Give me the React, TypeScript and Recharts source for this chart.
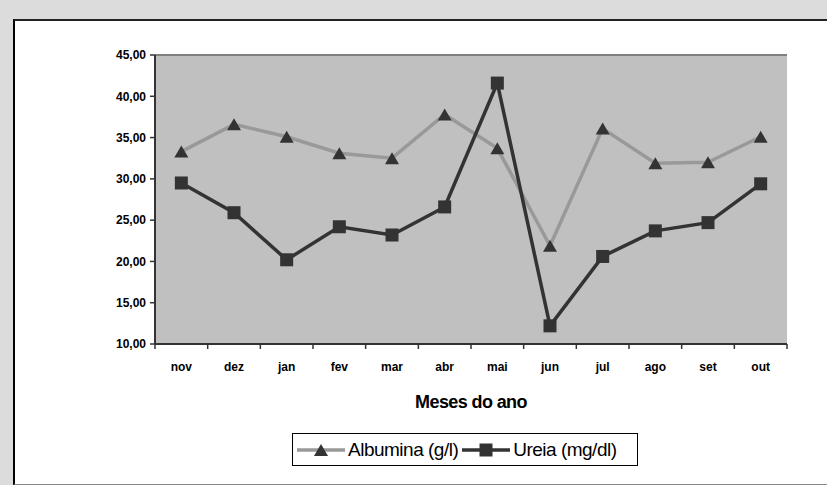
import React from 'react';
import {
  LineChart,
  Line,
  XAxis,
  YAxis,
  CartesianGrid,
  ReferenceLine,
  Legend,
} from 'recharts';

const months = ['nov', 'dez', 'jan', 'fev', 'mar', 'abr', 'mai', 'jun', 'jul', 'ago', 'set', 'out'];
const albumina = [33.3, 36.6, 35.1, 33.1, 32.5, 37.8, 33.7, 21.9, 36.1, 31.9, 32.0, 35.1];
const ureia = [29.5, 25.9, 20.2, 24.2, 23.2, 26.6, 41.6, 12.2, 20.6, 23.7, 24.7, 29.4];
const yTicks = [10, 15, 20, 25, 30, 35, 40, 45];
const seriesNames = ['Albumina (g/l)', 'Ureia (mg/dl)'];
const xTitle = 'Meses do ano';

const data = months.map((m, i) => ({ month: m, albumina: albumina[i], ureia: ureia[i] }));

const FONT = '"Liberation Sans", Arial, sans-serif';
const DARK = '#333333';
const LIGHT = '#999999';
const X_TICK_SIZE = 5;
const X_TICK_MARGIN = 13;

const Triangle = (props: any) => {
  const { cx, cy } = props;
  if (cx == null || cy == null) return null;
  const w = 14;
  const h = 12;
  return (
    <path
      d={`M${cx},${cy - h / 2} L${cx + w / 2},${cy + h / 2} L${cx - w / 2},${cy + h / 2} Z`}
      fill={DARK}
      stroke="none"
    />
  );
};

const Square = (props: any) => {
  const { cx, cy } = props;
  if (cx == null || cy == null) return null;
  const s = 13;
  return <rect x={cx - s / 2} y={cy - s / 2} width={s} height={s} fill={DARK} stroke="none" />;
};

const XTick = (props: any) => {
  const { x, y, payload, index } = props;
  const off = payload.offset || 0;
  const axisY = y - X_TICK_SIZE - X_TICK_MARGIN;
  return (
    <g>
      {index === 0 && (
        <line x1={x - off} x2={x - off} y1={axisY} y2={axisY + X_TICK_SIZE} stroke={DARK} strokeWidth={1.5} />
      )}
      <line x1={x + off} x2={x + off} y1={axisY} y2={axisY + X_TICK_SIZE} stroke={DARK} strokeWidth={1.5} />
      <text
        x={x}
        y={y}
        dy="0.71em"
        textAnchor="middle"
        fontFamily={FONT}
        fontWeight="bold"
        fontSize={12}
        fill="#000"
      >
        {payload.value}
      </text>
    </g>
  );
};

const LegendContent = () => (
  <div
    style={{
      boxSizing: 'border-box',
      width: '100%',
      height: '100%',
      border: '1px solid #000',
      background: '#fff',
      display: 'flex',
      alignItems: 'center',
      paddingLeft: 4,
      fontFamily: FONT,
      fontSize: 19,
      letterSpacing: -0.5,
      color: '#000',
      whiteSpace: 'nowrap',
    }}
  >
    <svg width={48} height={20} style={{ display: 'block' }}>
      <line x1={0} x2={48} y1={10} y2={10} stroke={LIGHT} strokeWidth={3.5} />
      <Triangle cx={24} cy={10} />
    </svg>
    <span style={{ marginLeft: 3, marginRight: 4 }}>{seriesNames[0]}</span>
    <svg width={48} height={20} style={{ display: 'block' }}>
      <line x1={0} x2={48} y1={10} y2={10} stroke={DARK} strokeWidth={3.5} />
      <Square cx={24} cy={10} />
    </svg>
    <span style={{ marginLeft: 3 }}>{seriesNames[1]}</span>
  </div>
);

export default function App() {
  return (
    <div style={{ position: 'fixed', left: 0, top: 0, width: 827, height: 485, background: '#dcdcdc', overflow: 'hidden' }}>
      <div
        style={{
          position: 'absolute',
          boxSizing: 'border-box',
          left: 13,
          top: 19,
          width: 830,
          height: 466,
          background: '#fff',
          borderLeft: '2px solid #000',
          borderTop: '2px solid #222',
          borderBottom: '1px solid #888',
        }}
      />
      <div style={{ position: 'absolute', left: 0, top: 0 }}>
        <LineChart
          width={827}
          height={485}
          data={data}
          margin={{ top: 55, right: 40, bottom: 77, left: 95 }}
        >
          <CartesianGrid
            vertical={false}
            horizontal={true}
            stroke="#000"
            strokeWidth={1}
            fill="#c0c0c0"
            fillOpacity={1}
            horizontalValues={[15, 20, 25, 30, 35, 40]}
          />
          <XAxis
            dataKey="month"
            scale="band"
            interval={0}
            tickLine={false}
            tickSize={X_TICK_SIZE}
            tickMargin={X_TICK_MARGIN}
            axisLine={{ stroke: DARK, strokeWidth: 2 }}
            tick={<XTick />}
            height={64}
            label={{
              value: xTitle,
              position: 'insideBottom',
              offset: 0,
              style: { fontFamily: FONT, fontWeight: 'bold', fontSize: 18, letterSpacing: -0.6, fill: '#000' },
            }}
          />
          <YAxis
            yAxisId="left"
            width={60}
            domain={[10, 45]}
            ticks={yTicks}
            interval={0}
            allowDataOverflow
            tickSize={5}
            tickMargin={4}
            tickLine={{ stroke: DARK, strokeWidth: 1.5 }}
            axisLine={{ stroke: DARK, strokeWidth: 2 }}
            tickFormatter={(v: number) => v.toFixed(2).replace('.', ',')}
            tick={{ fontFamily: FONT, fontWeight: 'bold', fontSize: 12, fill: '#000' }}
          />
          <YAxis
            yAxisId="right"
            orientation="right"
            width={0}
            domain={[10, 45]}
            tick={false}
            tickLine={false}
            axisLine={{ stroke: '#808080', strokeWidth: 1.5 }}
          />
          <ReferenceLine yAxisId="left" y={45} stroke="#808080" strokeWidth={2} />
          <Line
            yAxisId="left"
            type="linear"
            dataKey="albumina"
            name={seriesNames[0]}
            stroke={LIGHT}
            strokeWidth={3.5}
            dot={<Triangle />}
            activeDot={false}
            isAnimationActive={false}
          />
          <Line
            yAxisId="left"
            type="linear"
            dataKey="ureia"
            name={seriesNames[1]}
            stroke={DARK}
            strokeWidth={3.5}
            dot={<Square />}
            activeDot={false}
            isAnimationActive={false}
          />
          <Legend
            layout="horizontal"
            verticalAlign="middle"
            align="center"
            content={<LegendContent />}
            wrapperStyle={{ left: 292, top: 433, width: 346, height: 33 }}
          />
        </LineChart>
      </div>
    </div>
  );
}
